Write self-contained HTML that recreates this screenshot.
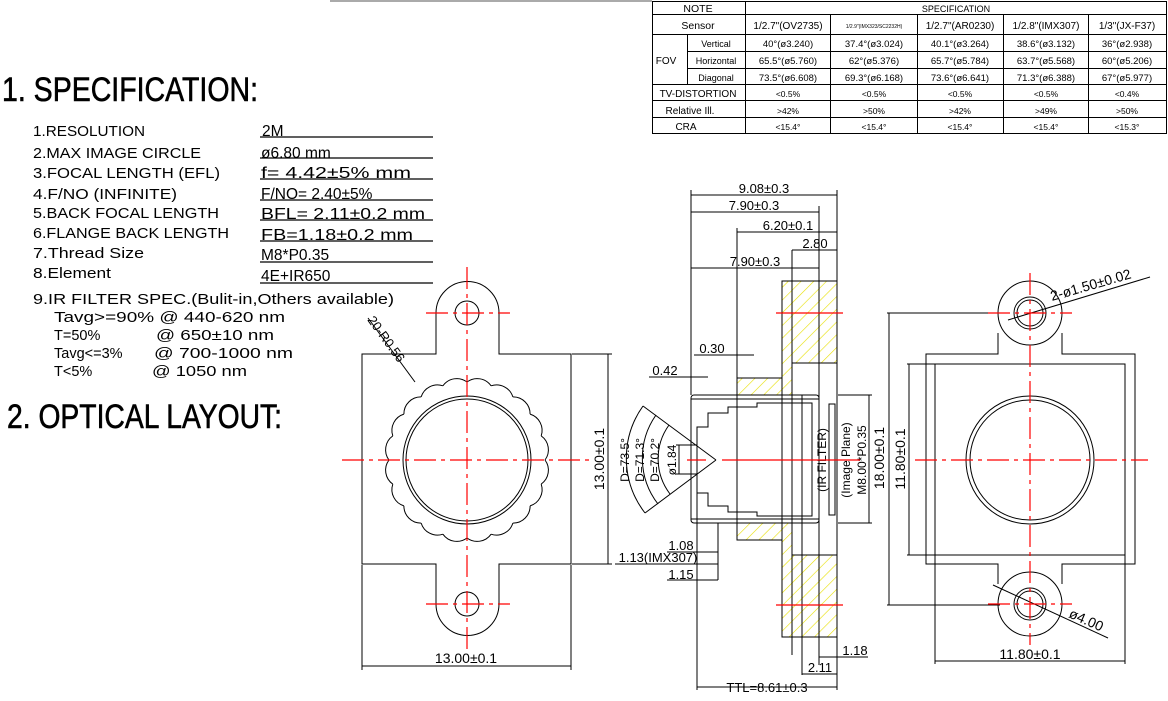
<!DOCTYPE html>
<html><head><meta charset="utf-8"><style>
html,body{margin:0;padding:0;background:#fff;}
svg{display:block}
text{font-family:"Liberation Sans",sans-serif;fill:#000}
</style></head><body>
<svg width="1168" height="701" viewBox="0 0 1168 701" xmlns="http://www.w3.org/2000/svg">
<defs>
<pattern id="h" width="9" height="9" patternUnits="userSpaceOnUse" patternTransform="rotate(45)">
<rect width="9" height="9" fill="#fff"/><line x1="0" y1="0" x2="0" y2="9" stroke="#e8e000" stroke-width="1.2"/>
</pattern>
<path id="sc" d="M545 460 A17 17 0 0 1 541.18 484.10" fill="none" stroke="#000" stroke-width="1"/>
</defs>
<line x1="330" y1="1" x2="652" y2="1" stroke="#555" stroke-width="1"/>
<!-- Table -->
<g stroke="#000" stroke-width="1" fill="none">
<rect x="652.5" y="1.5" width="514" height="132"/>
<line x1="652" y1="14.5" x2="1167" y2="14.5"/>
<line x1="652" y1="34.5" x2="1167" y2="34.5"/>
<line x1="687" y1="51.5" x2="1167" y2="51.5"/>
<line x1="687" y1="68.5" x2="1167" y2="68.5"/>
<line x1="652" y1="84.5" x2="1167" y2="84.5"/>
<line x1="652" y1="100.5" x2="1167" y2="100.5"/>
<line x1="652" y1="117.5" x2="1167" y2="117.5"/>
<line x1="687.5" y1="34" x2="687.5" y2="84"/>
<line x1="745.5" y1="1" x2="745.5" y2="133"/>
<line x1="830.5" y1="14" x2="830.5" y2="133"/>
<line x1="917.5" y1="14" x2="917.5" y2="133"/>
<line x1="1003.5" y1="14" x2="1003.5" y2="133"/>
<line x1="1088.5" y1="14" x2="1088.5" y2="133"/>
</g>
<g font-size="10.5" text-anchor="middle">
<text x="698" y="12">NOTE</text>
<text x="956" y="12" font-size="9">SPECIFICATION</text>
<text x="698" y="29">Sensor</text>
<text x="788" y="29" font-size="10">1/2.7"(OV2735)</text>
<text x="874" y="28" font-size="5">1/2.9"(IMX323/SC2232H)</text>
<text x="960" y="29" font-size="10">1/2.7"(AR0230)</text>
<text x="1046" y="29" font-size="10">1/2.8"(IMX307)</text>
<text x="1127" y="29" font-size="10">1/3"(JX-F37)</text>
<text x="666" y="64" font-size="10">FOV</text>
<text x="716" y="47" font-size="9">Vertical</text>
<text x="716" y="64" font-size="9">Horizontal</text>
<text x="716" y="81" font-size="9">Diagonal</text>
<g font-size="9.5">
<text x="788" y="47">40°(ø3.240)</text><text x="874" y="47">37.4°(ø3.024)</text><text x="960" y="47">40.1°(ø3.264)</text><text x="1046" y="47">38.6°(ø3.132)</text><text x="1127" y="47">36°(ø2.938)</text>
<text x="788" y="64">65.5°(ø5.760)</text><text x="874" y="64">62°(ø5.376)</text><text x="960" y="64">65.7°(ø5.784)</text><text x="1046" y="64">63.7°(ø5.568)</text><text x="1127" y="64">60°(ø5.206)</text>
<text x="788" y="81">73.5°(ø6.608)</text><text x="874" y="81">69.3°(ø6.168)</text><text x="960" y="81">73.6°(ø6.641)</text><text x="1046" y="81">71.3°(ø6.388)</text><text x="1127" y="81">67°(ø5.977)</text>
</g>
<text x="698" y="97" font-size="10">TV-DISTORTION</text>
<text x="690" y="114" font-size="10">Relative Ill.</text>
<text x="686" y="130" font-size="10">CRA</text>
<g font-size="8.5">
<text x="788" y="97">&lt;0.5%</text><text x="874" y="97">&lt;0.5%</text><text x="960" y="97">&lt;0.5%</text><text x="1046" y="97">&lt;0.5%</text><text x="1127" y="97">&lt;0.4%</text>
<text x="788" y="114">&gt;42%</text><text x="874" y="114">&gt;50%</text><text x="960" y="114">&gt;42%</text><text x="1046" y="114">&gt;49%</text><text x="1127" y="114">&gt;50%</text>
<text x="788" y="130">&lt;15.4°</text><text x="874" y="130">&lt;15.4°</text><text x="960" y="130">&lt;15.4°</text><text x="1046" y="130">&lt;15.4°</text><text x="1127" y="130">&lt;15.3°</text>
</g>
</g>
<!-- Headings -->
<text x="2" y="101" font-family="Liberation Serif,serif" font-size="34" stroke="#000" stroke-width="0.6" textLength="256" lengthAdjust="spacingAndGlyphs">1. SPECIFICATION:</text>
<text x="7" y="428" font-family="Liberation Serif,serif" font-size="34" stroke="#000" stroke-width="0.6" textLength="275" lengthAdjust="spacingAndGlyphs">2. OPTICAL LAYOUT:</text>
<!-- spec list -->
<g font-size="14.5" lengthAdjust="spacingAndGlyphs">
<text x="33" y="136" textLength="112" lengthAdjust="spacingAndGlyphs">1.RESOLUTION</text>
<text x="33" y="158" textLength="168" lengthAdjust="spacingAndGlyphs">2.MAX  IMAGE  CIRCLE</text>
<text x="33" y="178" textLength="187" lengthAdjust="spacingAndGlyphs">3.FOCAL  LENGTH  (EFL)</text>
<text x="33" y="199" textLength="144" lengthAdjust="spacingAndGlyphs">4.F/NO  (INFINITE)</text>
<text x="33" y="218" textLength="186" lengthAdjust="spacingAndGlyphs">5.BACK  FOCAL  LENGTH</text>
<text x="33" y="238" textLength="196" lengthAdjust="spacingAndGlyphs">6.FLANGE  BACK  LENGTH</text>
<text x="33" y="258" textLength="111" lengthAdjust="spacingAndGlyphs">7.Thread  Size</text>
<text x="33" y="278" textLength="78" lengthAdjust="spacingAndGlyphs">8.Element</text>
<text x="33" y="304" textLength="361" lengthAdjust="spacingAndGlyphs">9.IR  FILTER  SPEC.(Bulit-in,Others  available)</text>
<text x="54" y="322" textLength="231" lengthAdjust="spacingAndGlyphs">Tavg&gt;=90%  @  440-620  nm</text>
<text x="54" y="340">T=50%</text><text x="156" y="340" textLength="118" lengthAdjust="spacingAndGlyphs">@  650±10  nm</text>
<text x="54" y="358">Tavg&lt;=3%</text><text x="154" y="358" textLength="139" lengthAdjust="spacingAndGlyphs">@  700-1000  nm</text>
<text x="54" y="376">T&lt;5%</text><text x="152" y="376" textLength="95" lengthAdjust="spacingAndGlyphs">@  1050  nm</text>
<g font-size="15.5">
<text x="262" y="136">2M</text>
<text x="261" y="158">ø6.80  mm</text>
<text x="261" y="178" textLength="150" lengthAdjust="spacingAndGlyphs">f= 4.42±5%  mm</text>
<text x="261" y="199">F/NO= 2.40±5%</text>
<text x="261" y="219" textLength="164" lengthAdjust="spacingAndGlyphs">BFL= 2.11±0.2 mm</text>
<text x="261" y="240" textLength="152" lengthAdjust="spacingAndGlyphs">FB=1.18±0.2 mm</text>
<text x="261" y="260">M8*P0.35</text>
<text x="261" y="281">4E+IR650</text>
</g>
</g>
<g stroke="#000" stroke-width="1.2">
<line x1="260" y1="137" x2="433" y2="137"/><line x1="260" y1="158" x2="433" y2="158"/>
<line x1="260" y1="179" x2="433" y2="179"/><line x1="260" y1="200" x2="433" y2="200"/>
<line x1="260" y1="220" x2="433" y2="220"/><line x1="260" y1="241" x2="433" y2="241"/>
<line x1="260" y1="262" x2="433" y2="262"/><line x1="260" y1="283" x2="433" y2="283"/>
</g>

<!-- LEFT VIEW -->
<g fill="none" stroke="#000" stroke-width="1">
<path d="M362 354 H436 V313 A31.5 31.5 0 0 1 499 313 V354 H571 V564 H499 V604 A31.5 31.5 0 0 1 436 604 V564 H362 Z"/>
<circle cx="467" cy="313" r="12"/><circle cx="467" cy="604" r="12"/>
<circle cx="467" cy="460" r="64"/><circle cx="467" cy="460" r="61"/>
<line x1="362" y1="565" x2="362" y2="670"/><line x1="571" y1="565" x2="571" y2="670"/>
<line x1="362" y1="666" x2="571" y2="666"/>
<line x1="572" y1="354" x2="612" y2="354"/><line x1="572" y1="564" x2="612" y2="564"/>
<line x1="608" y1="354" x2="608" y2="564"/>
<line x1="368" y1="318" x2="415" y2="382"/>
</g>
<g>
<use href="#sc"/>
<use href="#sc" transform="rotate(18 467 460)"/><use href="#sc" transform="rotate(36 467 460)"/>
<use href="#sc" transform="rotate(54 467 460)"/><use href="#sc" transform="rotate(72 467 460)"/>
<use href="#sc" transform="rotate(90 467 460)"/><use href="#sc" transform="rotate(108 467 460)"/>
<use href="#sc" transform="rotate(126 467 460)"/><use href="#sc" transform="rotate(144 467 460)"/>
<use href="#sc" transform="rotate(162 467 460)"/><use href="#sc" transform="rotate(180 467 460)"/>
<use href="#sc" transform="rotate(198 467 460)"/><use href="#sc" transform="rotate(216 467 460)"/>
<use href="#sc" transform="rotate(234 467 460)"/><use href="#sc" transform="rotate(252 467 460)"/>
<use href="#sc" transform="rotate(270 467 460)"/><use href="#sc" transform="rotate(288 467 460)"/>
<use href="#sc" transform="rotate(306 467 460)"/><use href="#sc" transform="rotate(324 467 460)"/>
<use href="#sc" transform="rotate(342 467 460)"/>
</g>
<text x="466" y="663" font-size="14" text-anchor="middle">13.00±0.1</text>
<text transform="translate(604 459) rotate(-90)" font-size="14" text-anchor="middle">13.00±0.1</text>
<text transform="translate(367 320) rotate(54)" font-size="13">20-R0.56</text>
<g stroke="#f00" stroke-width="1.2" stroke-dasharray="22 5 4 5">
<line x1="342" y1="460" x2="592" y2="460"/>
<line x1="467" y1="267" x2="467" y2="650"/>
<line x1="426" y1="313" x2="510" y2="313"/><line x1="426" y1="604" x2="510" y2="604"/>
</g>

<!-- MIDDLE VIEW -->
<g stroke="#000" stroke-width="1">
<path d="M782 281 H837 V363 H792 V395 H737 V378 H782 Z" fill="url(#h)"/>
<path d="M782 637 H837 V555 H792 V523 H737 V540 H782 Z" fill="url(#h)"/>
</g>
<g fill="none" stroke="#000" stroke-width="1">
<rect x="691" y="395" width="128" height="128" rx="3"/>
<rect x="691" y="399" width="128" height="120"/>
<line x1="782" y1="281" x2="782" y2="637"/><line x1="837" y1="281" x2="837" y2="645"/>
<line x1="792" y1="250" x2="792" y2="655"/><line x1="802" y1="395" x2="802" y2="675"/>
<line x1="819" y1="206" x2="819" y2="665"/><line x1="737" y1="228" x2="737" y2="540"/>
<line x1="691" y1="190" x2="691" y2="395"/>
<path d="M697 523 V427 H708 V413 H728 V407 H757 V403 H812 V516 H757 V512 H728 V506 H708 V493 H697"/>
<rect x="829" y="404" width="6" height="111"/>
<line x1="716" y1="460" x2="643" y2="406"/><line x1="716" y1="460" x2="645" y2="513"/>
<path d="M643 406 A90 90 0 0 0 645 513"/>
<path d="M656 415 A75 75 0 0 0 658 504"/>
<path d="M669 425 A58 58 0 0 0 670 494"/>
<line x1="676" y1="445" x2="697" y2="445"/><line x1="676" y1="474" x2="697" y2="474"/>
<line x1="679" y1="445" x2="679" y2="474"/>
<line x1="691" y1="195" x2="837" y2="195"/><line x1="837" y1="190" x2="837" y2="281"/>
<line x1="691" y1="212" x2="819" y2="212"/>
<line x1="737" y1="232" x2="837" y2="232"/>
<line x1="792" y1="250" x2="837" y2="250"/>
<line x1="691" y1="268" x2="819" y2="268"/>
<line x1="694" y1="355" x2="754" y2="355"/><line x1="649" y1="377" x2="708" y2="377"/>
<line x1="667" y1="552" x2="718" y2="552"/><line x1="615" y1="564" x2="718" y2="564"/>
<line x1="667" y1="580" x2="718" y2="580"/><line x1="718" y1="523" x2="718" y2="580"/>
<line x1="697" y1="523" x2="697" y2="690"/>
<line x1="697" y1="687" x2="837" y2="687"/><line x1="837" y1="645" x2="837" y2="690"/>
<line x1="802" y1="674" x2="837" y2="674"/>
<line x1="819" y1="657" x2="868" y2="657"/>
<line x1="838" y1="395" x2="872" y2="395"/><line x1="838" y1="523" x2="872" y2="523"/>
<line x1="869" y1="395" x2="869" y2="523"/>
</g>
<g font-size="13" text-anchor="middle">
<text x="764" y="193">9.08±0.3</text>
<text x="754" y="210">7.90±0.3</text>
<text x="788" y="230">6.20±0.1</text>
<text x="815" y="248">2.80</text>
<text x="755" y="266">7.90±0.3</text>
<text x="712" y="353">0.30</text>
<text x="665" y="375">0.42</text>
<text x="681" y="550">1.08</text>
<text x="658" y="562">1.13(IMX307)</text>
<text x="681" y="579">1.15</text>
<text x="855" y="655">1.18</text>
<text x="820" y="672">2.11</text>
<text x="767" y="692">TTL=8.61±0.3</text>
</g>
<g font-size="12" text-anchor="middle">
<text transform="translate(629 460) rotate(-90)">D=73.5°</text>
<text transform="translate(644 460) rotate(-90)">D=71.3°</text>
<text transform="translate(659 460) rotate(-90)">D=70.2°</text>
<text transform="translate(676 460) rotate(-90)">ø1.84</text>
<text transform="translate(826 460) rotate(-90)">(IR FILTER)</text>
<text transform="translate(850 460) rotate(-90)">(Image Plane)</text>
<text transform="translate(866 460) rotate(-90)">M8.00*P0.35</text>
<text transform="translate(884 458) rotate(-90)" font-size="14">18.00±0.1</text>
<text transform="translate(905 459) rotate(-90)" font-size="14">11.80±0.1</text>
</g>
<g stroke="#f00" stroke-width="1.2">
<line x1="687" y1="460" x2="706" y2="460"/><line x1="722" y1="460" x2="860" y2="460"/>
<line x1="776" y1="313" x2="843" y2="313"/><line x1="776" y1="605" x2="843" y2="605"/>
</g>

<!-- RIGHT VIEW -->
<g fill="none" stroke="#000" stroke-width="1">
<path d="M998 333 V354 H926 V564 H998 V584 M1062 584 V564 H1135 V354 H1062 V333"/>
<circle cx="1030" cy="313" r="32"/><circle cx="1030" cy="604" r="32"/>
<rect x="935" y="364" width="190" height="191"/>
<circle cx="1030" cy="313" r="16"/><circle cx="1030" cy="313" r="13"/>
<circle cx="1030" cy="604" r="16"/><circle cx="1030" cy="604" r="13"/>
<circle cx="1030" cy="460" r="64"/><circle cx="1030" cy="460" r="60"/>
<line x1="887" y1="313" x2="1000" y2="313"/><line x1="887" y1="605" x2="1000" y2="605"/>
<line x1="889" y1="313" x2="889" y2="605"/>
<line x1="907" y1="364" x2="935" y2="364"/><line x1="907" y1="555" x2="935" y2="555"/>
<line x1="909" y1="364" x2="909" y2="555"/>
<line x1="935" y1="555" x2="935" y2="664"/><line x1="1125" y1="555" x2="1125" y2="664"/>
<line x1="935" y1="661" x2="1125" y2="661"/>
<line x1="1008" y1="320" x2="1150" y2="277"/>
<line x1="993" y1="585" x2="1108" y2="638"/>
</g>
<text x="1030" y="659" font-size="14" text-anchor="middle">11.80±0.1</text>
<text transform="translate(1052 301) rotate(-16)" font-size="14">2-ø1.50±0.02</text>
<text transform="translate(1068 617) rotate(24)" font-size="14">ø4.00</text>
<g stroke="#f00" stroke-width="1.2" stroke-dasharray="22 5 4 5">
<line x1="915" y1="460" x2="1148" y2="460"/>
<line x1="1030" y1="273" x2="1030" y2="645"/>
<line x1="988" y1="313" x2="1072" y2="313"/><line x1="988" y1="604" x2="1072" y2="604"/>
</g>
</svg>
</body></html>
